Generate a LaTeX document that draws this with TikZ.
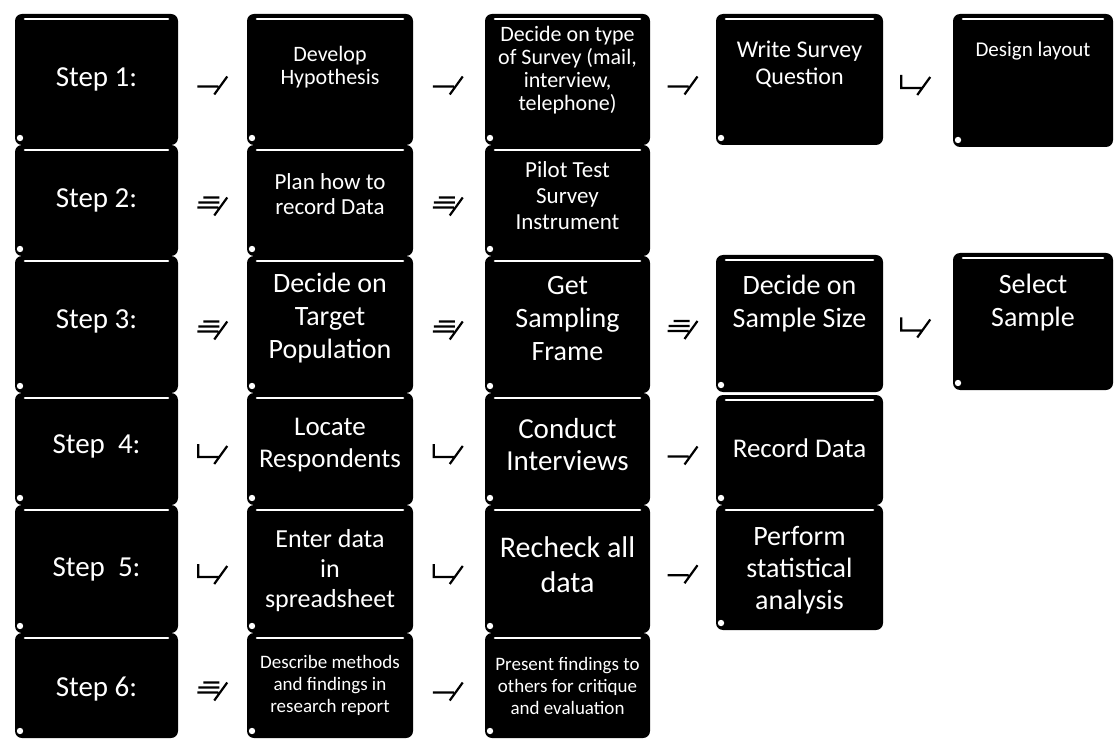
\documentclass[tikz,border=0pt]{standalone}
\usepackage{fontspec}
\setmainfont{Carlito}
\usetikzlibrary{calc}
\newcommand\txtsz[2]{\fontsize{#1}{#2}\selectfont}

\tikzset{
  card/.style={fill=black, rounded corners=7pt, inner sep=0pt,
    path picture={
      \draw[white, line width=2.6pt, line cap=round]
        ([xshift=10pt,yshift=-5pt]path picture bounding box.north west) --
        ([xshift=-10pt,yshift=-5pt]path picture bounding box.north east);
      \fill[white] ([xshift=5pt,yshift=7pt]path picture bounding box.south west) circle (3.2pt);
    }},
  sz/.style n args={2}{minimum width=#1, minimum height=#2},
  txt/.style={text=white, align=center, inner sep=0pt},
  glyph/.style={draw=black, line width=2.2pt},
  % arrow marks placed half way between two cards
  markplain/.style={glyph, to path={let \p1=($(\tikztostart)!.5!(\tikztotarget)$) in
      (\x1-16pt,\y1-7pt) -- (\x1+5pt,\y1-7pt)
      (\x1+1pt,\y1-15pt) -- (\x1+14pt,\y1+3pt)}},
  markstack/.style={glyph, to path={let \p1=($(\tikztostart)!.5!(\tikztotarget)$) in
      (\x1-16pt,\y1-7pt) -- (\x1+5pt,\y1-7pt)
      (\x1-15pt,\y1-2pt) -- (\x1+6pt,\y1-2pt)
      [line width=1.2pt] (\x1-10pt,\y1+3pt) -- (\x1+6pt,\y1+3pt)
      [line width=2.2pt] (\x1+1pt,\y1-15pt) -- (\x1+14pt,\y1+3pt)}},
  markcorner/.style={glyph, to path={let \p1=($(\tikztostart)!.5!(\tikztotarget)$) in
      (\x1-15pt,\y1+5pt) -- (\x1-15pt,\y1-8pt) -- (\x1+5pt,\y1-8pt)
      (\x1+1pt,\y1-15pt) -- (\x1+14pt,\y1+3pt)}},
}

\begin{document}
\begin{tikzpicture}[x=1pt,y=-1pt]
\useasboundingbox (0,0) rectangle (1119,743);

% ---- column 1: steps
\node[card, sz={163pt}{131pt}] (s1) at (96.5,79.5) {};
\node[card, sz={163pt}{111pt}] (s2) at (96.5,200.5) {};
\node[card, sz={163pt}{137pt}] (s3) at (96.5,324.5) {};
\node[card, sz={163pt}{112pt}] (s4) at (96.5,449) {};
\node[card, sz={163pt}{128pt}] (s5) at (96.5,569) {};
\node[card, sz={163pt}{105pt}] (s6) at (96.5,685.5) {};
\node[txt, font=\txtsz{29}{34}] (s1t) at (s1) {Step 1:};
\node[txt, font=\txtsz{29}{34}] (s2t) at (s2) {Step 2:};
\node[txt, font=\txtsz{29}{34}] (s3t) at ([yshift=3pt]s3) {Step 3:};
\node[txt, font=\txtsz{29}{34}] (s4t) at ([yshift=3pt]s4) {Step\ \ 4:};
\node[txt, font=\txtsz{29}{34}] (s5t) at (s5) {Step\ \ 5:};
\node[txt, font=\txtsz{29}{34}] (s6t) at ([yshift=-4pt]s6) {Step 6:};

% ---- column 2
\node[card, sz={166pt}{131pt}] (a1) at (330,79.5) {};
\node[card, sz={166pt}{111pt}] (a2) at (330,200.5) {};
\node[card, sz={166pt}{137pt}] (a3) at (330,324.5) {};
\node[card, sz={166pt}{112pt}] (a4) at (330,449) {};
\node[card, sz={166pt}{128pt}] (a5) at (330,569) {};
\node[card, sz={166pt}{105pt}] (a6) at (330,685.5) {};
\node[txt, font=\txtsz{22}{23}] (a1t) at ([yshift=12pt]a1) {Develop\\Hypothesis};
\node[txt, font=\txtsz{23}{25}] (a2t) at ([yshift=6pt]a2) {Plan how to\\record Data};
\node[txt, font=\txtsz{28}{33}] (a3t) at ([yshift=6pt]a3) {Decide on\\Target\\Population};
\node[txt, font=\txtsz{27}{32}] (a4t) at ([yshift=4pt]a4) {Locate\\Respondents};
\node[txt, font=\txtsz{26}{30}] (a5t) at ([yshift=-2pt]a5) {Enter data\\in\\spreadsheet};
\node[txt, font=\txtsz{19}{22}] (a6t) at (a6) {Describe methods\\and findings in\\research report};

% ---- column 3
\node[card, sz={165pt}{131pt}] (b1) at (567.5,79.5) {};
\node[card, sz={165pt}{111pt}] (b2) at (567.5,200.5) {};
\node[card, sz={165pt}{137pt}] (b3) at (567.5,324.5) {};
\node[card, sz={165pt}{112pt}] (b4) at (567.5,449) {};
\node[card, sz={165pt}{128pt}] (b5) at (567.5,569) {};
\node[card, sz={165pt}{105pt}] (b6) at (567.5,685.5) {};
\node[txt, font=\txtsz{22}{23}] (b1t) at ([yshift=9pt]b1) {Decide on type\\of Survey (mail,\\interview,\\telephone)};
\node[txt, font=\txtsz{23}{26}] (b2t) at ([yshift=5pt]b2) {Pilot Test\\Survey\\Instrument};
\node[txt, font=\txtsz{28}{33}] (b3t) at ([yshift=6pt]b3) {Get\\Sampling\\Frame};
\node[txt, font=\txtsz{29}{32}] (b4t) at ([yshift=4pt]b4) {Conduct\\Interviews};
\node[txt, font=\txtsz{30}{35}] (b5t) at ([yshift=4pt]b5) {Recheck all\\data};
\node[txt, font=\txtsz{19}{22}] (b6t) at (b6) {Present findings to\\others for critique\\and evaluation};

% ---- column 4
\node[card, sz={167pt}{131pt}] (c1) at (799.5,79.5) {};
\node[card, sz={167pt}{137pt}] (c3) at (799.5,323.5) {};
\node[card, sz={167pt}{110pt}] (c4) at (799.5,450) {};
\node[card, sz={167pt}{125pt}] (c5) at (799.5,567.5) {};
\node[txt, font=\txtsz{24}{27}] (c1t) at ([yshift=15pt]c1) {Write Survey\\Question};
\node[txt, font=\txtsz{28}{33}] (c3t) at ([yshift=20pt]c3) {Decide on\\Sample Size};
\node[txt, font=\txtsz{27}{32}] (c4t) at ([yshift=2pt]c4) {Record Data};
\node[txt, font=\txtsz{28}{32}] (c5t) at ([yshift=-3pt]c5) {Perform\\statistical\\analysis};

% ---- column 5
\node[card, sz={160pt}{133pt}] (e1) at (1033,80.5) {};
\node[card, sz={160pt}{137pt}] (e3) at (1033,321.5) {};
\node[txt, font=\txtsz{21}{24}] (e1t) at ([yshift=29pt]e1) {Design layout};
\node[txt, font=\txtsz{28}{33}] (e3t) at ([yshift=19pt]e3) {Select\\Sample};

% ---- arrow marks
\draw[markplain]  (s1) to (a1);
\draw[markplain]  (a1) to (b1);
\draw[markplain]  (b1) to (c1);
\draw[markcorner] (c1) to (e1);
\draw[markstack]  (s2) to (a2);
\draw[markstack]  (a2) to (b2);
\draw[markstack]  (s3) to (a3);
\draw[markstack]  (a3) to (b3);
\draw[markstack]  (b3) to (c3);
\draw[markcorner] (c3) to (e3);
\draw[markcorner] (s4) to (a4);
\draw[markcorner] (a4) to (b4);
\draw[markplain]  (b4) to (c4);
\draw[markcorner] (s5) to (a5);
\draw[markcorner] (a5) to (b5);
\draw[markplain]  (b5) to (c5);
\draw[markstack]  (s6) to (a6);
\draw[markplain]  (a6) to (b6);
\end{tikzpicture}
\end{document}
